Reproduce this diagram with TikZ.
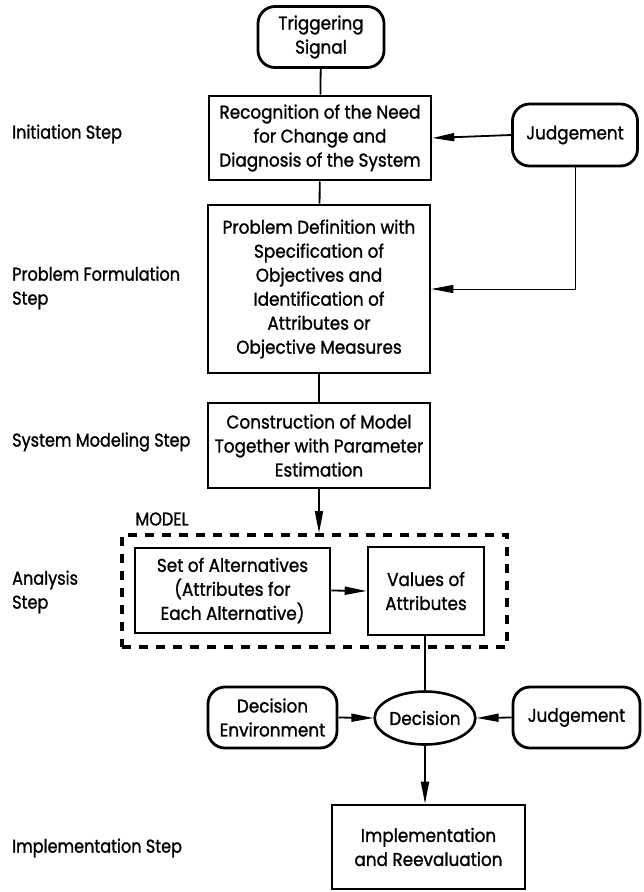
\documentclass[tikz,border=0pt]{standalone}
\usepackage{fontspec}
\setmainfont{Poppins}[FakeStretch=0.87, FakeBold=1.2]
\newfontfamily\boxfont{Poppins}[FakeStretch=0.91, FakeBold=1.2]
\usetikzlibrary{arrows.meta,shapes.geometric}
\begin{document}
\begin{tikzpicture}[x=1pt,y=-1pt,
  every node/.style={font=\boxfont\fontsize{18.5}{24}\selectfont, align=center, inner sep=0pt},
  stepbox/.style={draw, line width=2.6pt, rectangle},
  roundbox/.style={draw, line width=2.8pt, rectangle, rounded corners=17pt},
  oval/.style={draw, line width=2.6pt, ellipse},
  steplabel/.style={anchor=west, align=left, font=\rmfamily\fontsize{18.5}{24}\selectfont},
  link/.style={line width=1.8pt},
  thinlink/.style={line width=1pt},
  tip/.style={-{Triangle[length=22pt,width=8pt]}},
  modelframe/.style={draw, line width=3.8pt, dash pattern=on 9pt off 8pt}
]
\useasboundingbox (0,0) rectangle (643,892);

% main column
\node[roundbox, minimum width=126pt, minimum height=61pt] (trig) at (321,37) {Triggering\\Signal};
\node[stepbox, minimum width=222pt, minimum height=84pt] (recog) at (320,138)
  {Recognition of the Need\\for Change and\\Diagnosis of the System};
\node[roundbox, minimum width=125pt, minimum height=62pt] (judgeA) at (575,135) {Judgement};
\node[stepbox, minimum width=222pt, minimum height=168pt] (prob) at (319,289)
  {Problem Definition with\\Specification of\\Objectives and\\Identification of\\Attributes or\\Objective Measures};
\node[stepbox, minimum width=222pt, minimum height=85pt] (constr) at (319,445.5)
  {Construction of Model\\Together with Parameter\\Estimation};

% model frame
\node[modelframe, minimum width=385pt, minimum height=112pt] (frame) at (314.5,591) {};
\node[steplabel, anchor=center] (modeltxt) at (162,519) {MODEL};
\node[stepbox, minimum width=195pt, minimum height=85pt] (alts) at (232.5,590.5)
  {Set of Alternatives\\(Attributes for\\Each Alternative)};
\node[stepbox, minimum width=116pt, minimum height=88pt] (vals) at (426,591)
  {Values of\\Attributes};

% decision stage
\node[oval, minimum width=100pt, minimum height=53pt] (dec) at (425,718) {Decision};
\node[roundbox, minimum width=129pt, minimum height=61pt] (env) at (272.5,717.5)
  {Decision\\Environment};
\node[roundbox, minimum width=127pt, minimum height=61pt] (judgeB) at (576.5,717.5) {Judgement};
\node[stepbox, minimum width=193pt, minimum height=84pt] (impl) at (428.5,847)
  {Implementation\\and Reevaluation};

% step labels
\node[steplabel] (l1) at (12,134) {Initiation Step};
\node[steplabel] (l2) at (12,288) {Problem Formulation\\Step};
\node[steplabel] (l3) at (12,442) {System Modeling Step};
\node[steplabel] (l4) at (12,592) {Analysis\\Step};
\node[steplabel] (l5) at (12,848) {Implementation Step};

% connectors
\draw[link] (trig) -- (recog);
\draw[link] (recog) -- (prob);
\draw[link] (prob) -- (constr);
\draw[link,tip] (judgeA.west) -- (recog.east);
\draw[thinlink,tip] (judgeA.south) |- (prob.east);
\draw[link,tip] (constr.south) -- (frame.north -| constr.south);
\draw[link,tip] (alts.east) -- (vals.west);
\draw[link] (vals.south -| dec.north) -- (dec.north);
\draw[link,tip] (env.east) -- (dec.west);
\draw[link,tip] (judgeB.west) -- (dec.east);
\draw[link,tip] (dec.south) -- (dec.south |- impl.north);
\end{tikzpicture}
\end{document}
